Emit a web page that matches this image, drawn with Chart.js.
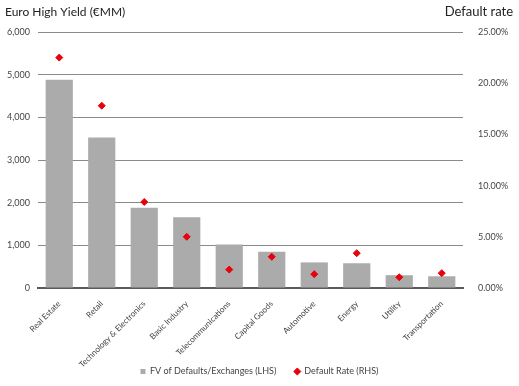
<!DOCTYPE html>
<html>
<head>
<meta charset="utf-8">
<script src="https://cdn.jsdelivr.net/npm/chart.js@4/dist/chart.umd.min.js"></script>
<style>
  html, body { margin: 0; padding: 0; background: #fff; }
  #wrap { width: 519px; height: 386px; }
</style>
</head>
<body>
<div id="wrap"><canvas id="chart" width="519" height="386"></canvas></div>
<script>
// --- data ---
const sectors = ["Real Estate", "Retail", "Technology & Electronics", "Basic Industry",
    "Telecommunications", "Capital Goods", "Automotive", "Energy", "Utility", "Transportation"];
const fvDefaults = [4880, 3530, 1880, 1660, 1020, 850, 600, 580, 300, 275];   // €MM, LHS
const defaultRate = [22.5, 17.8, 8.4, 5.0, 1.8, 3.05, 1.35, 3.4, 1.05, 1.45];  // %, RHS

const leftTicks = [0, 1000, 2000, 3000, 4000, 5000, 6000];
const rightTicks = [0, 5, 10, 15, 20, 25];

const FONT = "Lato, 'Open Sans', sans-serif";

// titles above both axes
const cornerTitles = {
    id: "cornerTitles",
    afterDraw(chart) {
        const c = chart.ctx;
        c.save();
        c.fillStyle = "#222";
        c.textBaseline = "middle";
        c.font = "12px " + FONT;
        c.textAlign = "left";
        c.fillText("Euro High Yield (€MM)", 5, 12);
        c.font = "13px " + FONT;
        c.textAlign = "right";
        c.fillText("Default rate", 513, 12);
        c.restore();
    }
};

new Chart(document.getElementById("chart"), {
    data: {
        labels: sectors,
        datasets: [
            {
                type: "scatter",
                label: "Default Rate (RHS)",
                data: defaultRate,
                yAxisID: "yR",
                backgroundColor: "#e8000b",
                borderColor: "#e8000b",
                pointStyle: "rectRot",
                pointRadius: 3.5,
                showLine: false,
                order: 0
            },
            {
                type: "bar",
                label: "FV of Defaults/Exchanges (LHS)",
                data: fvDefaults,
                yAxisID: "yL",
                backgroundColor: "#ababab",
                barPercentage: 0.64,
                categoryPercentage: 1,
                pointStyle: "rect",
                order: 1
            }
        ]
    },
    options: {
        responsive: false,
        animation: false,
        layout: { padding: { top: 32, left: 0, right: 0, bottom: 0 } },
        plugins: {
            legend: {
                position: "bottom",
                reverse: true,
                labels: {
                    usePointStyle: true,
                    boxWidth: 5,
                    boxHeight: 5,
                    padding: 0,   // vertical room is tight, gap between items made with spaces
                    color: "#444",
                    font: { family: FONT, size: 9 },
                    generateLabels: chart => {
                        const items = Chart.defaults.plugins.legend.labels.generateLabels(chart);
                        items.forEach(it => {
                            if (it.datasetIndex === 1) it.text += "        ";
                        });
                        return items;
                    }
                }
            },
            tooltip: { enabled: false }
        },
        scales: {
            x: {
                type: "category",
                offset: true,
                grid: { display: false },
                border: { display: true, color: "#5a5a5a", width: 2 },
                afterFit: s => { s.height = 79; },
                ticks: {
                    color: "#444",
                    font: { family: FONT, size: 8.2 },
                    maxRotation: 45,
                    minRotation: 45,
                    autoSkip: false,
                    padding: 3
                }
            },
            yL: {
                position: "left",
                min: 0,
                max: 6000,
                afterBuildTicks: s => { s.ticks = leftTicks.map(v => ({ value: v })); },
                afterFit: s => { s.width = 38; },
                border: { display: false },
                grid: {
                    display: true,
                    drawOnChartArea: true,
                    drawTicks: false,
                    color: "#8a8a8a",
                    lineWidth: 1
                },
                ticks: {
                    color: "#444",
                    font: { family: FONT, size: 9 },
                    padding: 8,
                    callback: v => v.toLocaleString("en-US")
                }
            },
            yR: {
                position: "right",
                min: 0,
                max: 25,
                afterBuildTicks: s => { s.ticks = rightTicks.map(v => ({ value: v })); },
                afterFit: s => { s.width = 56; },
                border: { display: false },
                grid: { display: false, drawTicks: false },
                ticks: {
                    color: "#444",
                    font: { family: FONT, size: 9 },
                    padding: 15,
                    callback: v => v.toFixed(2) + "%"
                }
            }
        }
    },
    plugins: [cornerTitles]
});
</script>
</body>
</html>
